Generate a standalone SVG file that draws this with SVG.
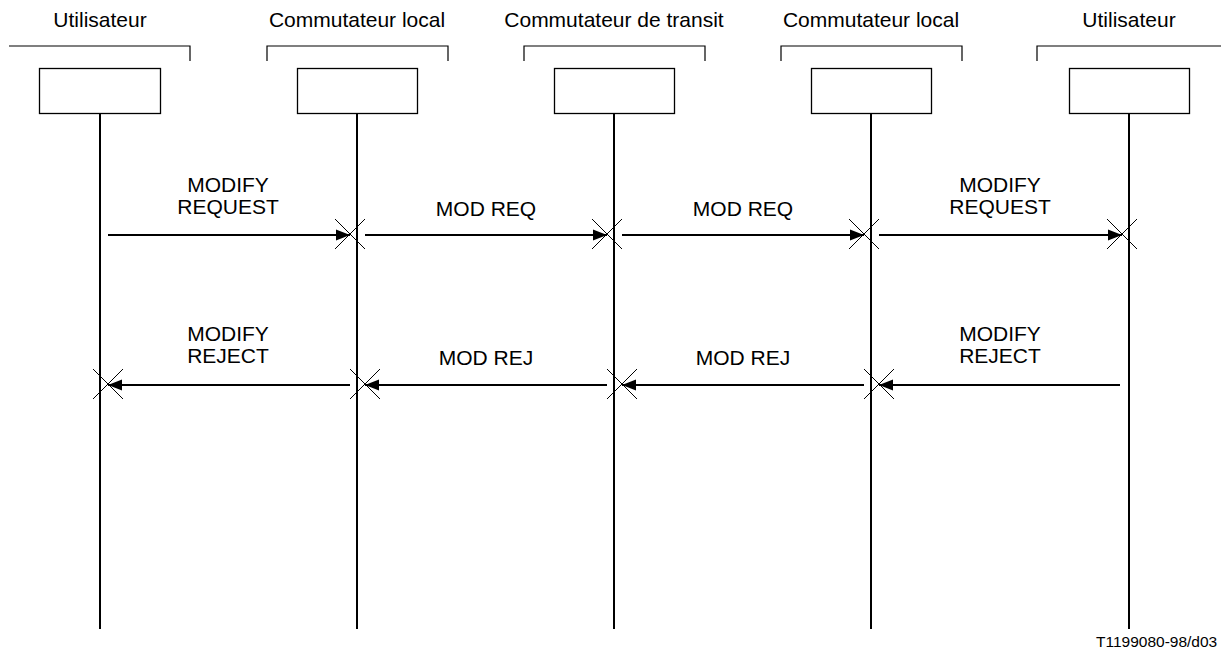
<svg xmlns="http://www.w3.org/2000/svg" width="1221" height="651" viewBox="0 0 1221 651">
  <style>
    .lbl { font-family: "Liberation Sans", Arial, sans-serif; font-size: 21px; fill: #000; text-anchor: middle; }
    .ref { font-family: "Liberation Sans", Arial, sans-serif; font-size: 15.5px; fill: #000; }
    .box { fill: #fff; stroke: #000; stroke-width: 1.3; }
    .brk { fill: none; stroke: #000; stroke-width: 1.2; }
    .life { stroke: #000; stroke-width: 2; }
    .msg { stroke: #000; stroke-width: 1.8; marker-end: url(#head); }
    .x { stroke: #000; stroke-width: 1; }
  </style>
  <defs>
    <marker id="head" markerUnits="userSpaceOnUse" markerWidth="15" markerHeight="14" refX="14" refY="7" orient="auto">
      <path d="M0,1.5 L14,7 L0,12.5 Z" fill="#000"/>
    </marker>
    <g id="cross">
      <line class="x" x1="-15" y1="-15" x2="15" y2="15"/>
      <line class="x" x1="-15" y1="15" x2="15" y2="-15"/>
    </g>
  </defs>

  <rect width="1221" height="651" fill="#fff"/>

  <!-- participants -->
  <g id="user-a">
    <text class="lbl" x="100" y="27">Utilisateur</text>
    <path class="brk" d="M9,46 H190 V61"/>
    <rect class="box" x="39.5" y="68.5" width="121" height="45"/>
    <line class="life" x1="100" y1="114" x2="100" y2="629"/>
  </g>
  <g id="local-a">
    <text class="lbl" x="357" y="27">Commutateur local</text>
    <path class="brk" d="M267,61 V46 H448 V61"/>
    <rect class="box" x="297.5" y="68.5" width="120" height="45"/>
    <line class="life" x1="357" y1="114" x2="357" y2="629"/>
  </g>
  <g id="transit">
    <text class="lbl" x="614" y="27">Commutateur de transit</text>
    <path class="brk" d="M524,61 V46 H705 V61"/>
    <rect class="box" x="554.5" y="68.5" width="120" height="45"/>
    <line class="life" x1="614" y1="114" x2="614" y2="629"/>
  </g>
  <g id="local-b">
    <text class="lbl" x="871" y="27">Commutateur local</text>
    <path class="brk" d="M781,61 V46 H962 V61"/>
    <rect class="box" x="811.5" y="68.5" width="120" height="45"/>
    <line class="life" x1="871" y1="114" x2="871" y2="629"/>
  </g>
  <g id="user-b">
    <text class="lbl" x="1129" y="27">Utilisateur</text>
    <path class="brk" d="M1037,61 V46 H1221"/>
    <rect class="box" x="1069.5" y="68.5" width="120" height="45"/>
    <line class="life" x1="1129" y1="114" x2="1129" y2="629"/>
  </g>

  <!-- messages -->
  <g id="connectors">
    <line class="msg" x1="108" y1="235" x2="350" y2="235"/>
    <line class="msg" x1="365" y1="235" x2="607" y2="235"/>
    <line class="msg" x1="622" y1="235" x2="864" y2="235"/>
    <line class="msg" x1="879" y1="235" x2="1122" y2="235"/>
    <use href="#cross" x="350" y="234"/>
    <use href="#cross" x="607" y="234"/>
    <use href="#cross" x="864" y="234"/>
    <use href="#cross" x="1122" y="234"/>

    <line class="msg" x1="350" y1="385" x2="108" y2="385"/>
    <line class="msg" x1="607" y1="385" x2="365" y2="385"/>
    <line class="msg" x1="864" y1="385" x2="622" y2="385"/>
    <line class="msg" x1="1120" y1="385" x2="879" y2="385"/>
    <use href="#cross" x="108" y="384"/>
    <use href="#cross" x="365" y="384"/>
    <use href="#cross" x="622" y="384"/>
    <use href="#cross" x="879" y="384"/>
  </g>

  <!-- message labels -->
  <g id="labels">
    <text class="lbl" x="228" y="192">MODIFY</text>
    <text class="lbl" x="228" y="214">REQUEST</text>
    <text class="lbl" x="486" y="216">MOD REQ</text>
    <text class="lbl" x="743" y="216">MOD REQ</text>
    <text class="lbl" x="1000" y="192">MODIFY</text>
    <text class="lbl" x="1000" y="214">REQUEST</text>

    <text class="lbl" x="228" y="341">MODIFY</text>
    <text class="lbl" x="228" y="363">REJECT</text>
    <text class="lbl" x="486" y="365">MOD REJ</text>
    <text class="lbl" x="743" y="365">MOD REJ</text>
    <text class="lbl" x="1000" y="341">MODIFY</text>
    <text class="lbl" x="1000" y="363">REJECT</text>
  </g>

  <text class="ref" x="1096" y="647">T1199080-98/d03</text>
</svg>
